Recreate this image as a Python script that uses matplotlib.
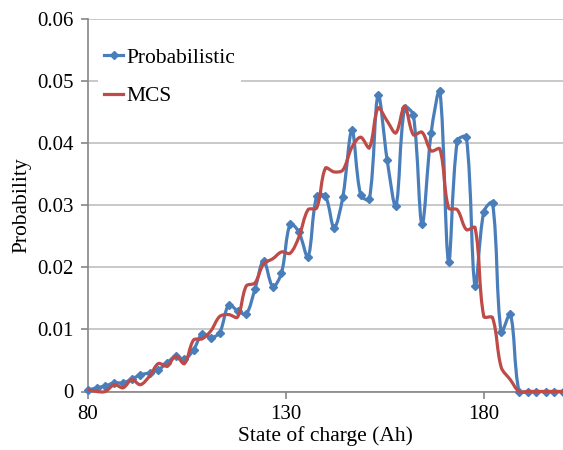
import numpy as np
import matplotlib.pyplot as plt
from matplotlib.path import Path
from matplotlib.patches import PathPatch
from matplotlib.lines import Line2D

# state of charge grid (Ah)
soc = [80.0, 82.2, 84.4, 86.7, 88.9, 91.1, 93.3, 95.6, 97.8, 100.0,
       102.2, 104.4, 106.7, 108.9, 111.1, 113.3, 115.6, 117.8, 120.0, 122.2,
       124.4, 126.7, 128.9, 131.1, 133.3, 135.6, 137.8, 140.0, 142.2, 144.4,
       146.7, 148.9, 151.1, 153.3, 155.6, 157.8, 160.0, 162.2, 164.4, 166.7,
       168.9, 171.1, 173.3, 175.6, 177.8, 180.0, 182.2, 184.4, 186.7, 188.9,
       191.1, 193.3, 195.6, 197.8, 200.0]

prob_probabilistic = [0.0002, 0.0006, 0.0009, 0.0014, 0.0014, 0.0020, 0.0027, 0.0030, 0.0035, 0.0046,
                      0.0057, 0.0052, 0.0067, 0.0093, 0.0087, 0.0095, 0.0140, 0.0130, 0.0125, 0.0165,
                      0.0211, 0.0169, 0.0191, 0.0270, 0.0257, 0.0217, 0.0315, 0.0315, 0.0264, 0.0314,
                      0.0421, 0.0317, 0.0310, 0.0478, 0.0373, 0.0299, 0.0457, 0.0446, 0.0270, 0.0417,
                      0.0484, 0.0209, 0.0404, 0.0410, 0.0170, 0.0290, 0.0304, 0.0096, 0.0125, 0.0,
                      0.0, 0.0, 0.0, 0.0, 0.0]

prob_mcs = [0.0003, 0.0000, 0.0000, 0.0011, 0.0006, 0.0019, 0.0011, 0.0025, 0.0045, 0.0041,
            0.0057, 0.0045, 0.0083, 0.0085, 0.0098, 0.0121, 0.0124, 0.0120, 0.0170, 0.0175,
            0.0206, 0.0214, 0.0225, 0.0223, 0.0249, 0.0293, 0.0296, 0.0360, 0.0354, 0.0357,
            0.0394, 0.0410, 0.0393, 0.0457, 0.0436, 0.0417, 0.0460, 0.0414, 0.0418, 0.0388,
            0.0391, 0.0296, 0.0293, 0.0261, 0.0264, 0.0121, 0.0119, 0.0039, 0.0019, 0.0,
            0.0, 0.0, 0.0, 0.0, 0.0]

x_ticks = [80, 130, 180]
y_ticks = [0, 0.01, 0.02, 0.03, 0.04, 0.05, 0.06]
y_tick_labels = ['0', '0.01', '0.02', '0.03', '0.04', '0.05', '0.06']

blue = '#4a7ebb'
red = '#be4b48'


def smooth_path(ax, x, y):
    # excel-like smoothed line: cubic bezier, tangents weighted by the
    # on-screen segment lengths so short segments don't overshoot
    pts = np.column_stack([x, y])
    scr = ax.transData.transform(pts)
    verts = [pts[0]]
    codes = [Path.MOVETO]
    n = len(pts)

    def seglen(a, b):
        return np.hypot(*(scr[b] - scr[a]))

    for i in range(n - 1):
        i0 = max(i - 1, 0)
        i3 = min(i + 2, n - 1)
        p0, p1, p2, p3 = pts[i0], pts[i], pts[i + 1], pts[i3]
        d01, d12, d23 = seglen(i0, i), seglen(i, i + 1), seglen(i + 1, i3)
        f1 = d12 / (d01 + d12) / 3 if d01 + d12 > 0 else 0
        f2 = d12 / (d12 + d23) / 3 if d12 + d23 > 0 else 0
        verts += [p1 + (p2 - p0) * f1, p2 - (p3 - p1) * f2, p2]
        codes += [Path.CURVE4] * 3
    return Path(verts, codes)


plt.rcParams['font.family'] = ['Liberation Serif', 'DejaVu Serif']

fig = plt.figure(figsize=(5.63, 4.5), dpi=100)
ax = fig.add_axes([0.156, 0.13, 0.844, 0.827])
ax.set_xlim(80, 200)
ax.set_ylim(0, 0.06)

ax.add_patch(PathPatch(smooth_path(ax, soc, prob_probabilistic), facecolor='none',
                       edgecolor=blue, lw=2.3, zorder=3, clip_on=False))
ax.plot(soc, prob_probabilistic, ls='none', marker='D', ms=4.5, color=blue,
        zorder=4, clip_on=False)
ax.add_patch(PathPatch(smooth_path(ax, soc, prob_mcs), facecolor='none',
                       edgecolor=red, lw=2.3, zorder=5, clip_on=False))

ax.set_xticks(x_ticks)
ax.set_yticks(y_ticks)
ax.set_yticklabels(y_tick_labels)

ax.grid(axis='y', color='#c0c0c0', lw=1.2)
ax.set_axisbelow(True)
for s in ['top', 'right']:
    ax.spines[s].set_visible(False)
for s in ['left', 'bottom']:
    ax.spines[s].set_color('#868686')
    ax.spines[s].set_linewidth(1.2)
ax.tick_params(axis='both', colors='#868686', labelcolor='black', labelsize=15,
               length=5, width=1.2, direction='out')
ax.tick_params(axis='y', pad=5)
ax.tick_params(axis='x', pad=5)

ax.set_xlabel('State of charge (Ah)', fontsize=15.5, labelpad=1)
ax.set_ylabel('Probability', fontsize=15.5, labelpad=4)

handles = [Line2D([], [], color=blue, lw=2.3, marker='D', ms=4.5),
           Line2D([], [], color=red, lw=2.3)]
leg = ax.legend(handles, ['Probabilistic', 'MCS'], loc='upper left',
                bbox_to_anchor=(-0.002, 0.97), fontsize=15.5, handlelength=0.9,
                handletextpad=0.12, labelspacing=0.85, borderpad=0.3,
                frameon=True, fancybox=False, numpoints=1)
leg.get_frame().set_edgecolor('none')
leg.get_frame().set_facecolor('white')
leg.get_frame().set_alpha(1)

fig.savefig('out.png', dpi=100)
